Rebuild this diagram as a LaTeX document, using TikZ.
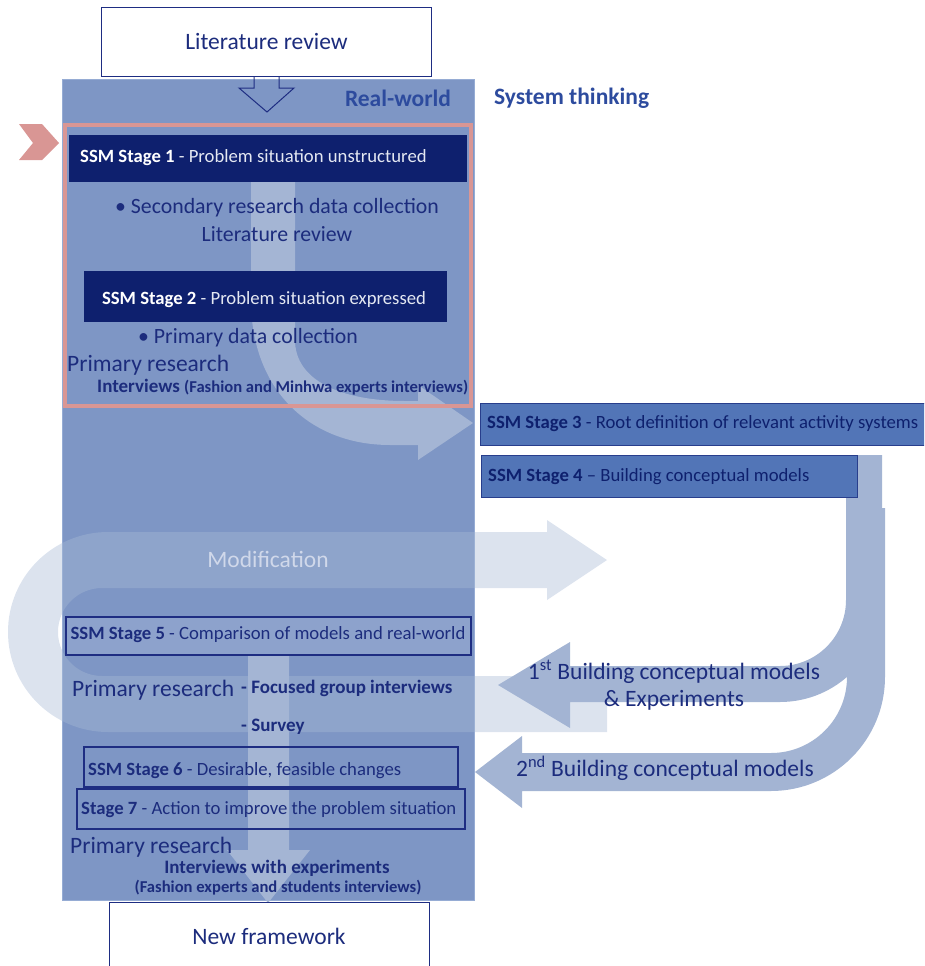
\documentclass[tikz,border=0pt]{standalone}
\usepackage{fontspec}
\setmainfont{Carlito}
\definecolor{bgblue}{RGB}{126,150,197}
\definecolor{bgedge}{RGB}{150,172,212}
\definecolor{navybox}{RGB}{14,32,110}
\definecolor{midbox}{RGB}{82,117,183}
\definecolor{midedge}{RGB}{40,62,140}
\definecolor{navyT}{RGB}{28,44,125}
\definecolor{headT}{RGB}{45,75,158}
\definecolor{pinkc}{RGB}{217,150,148}
\definecolor{lightarrow}{RGB}{164,181,212}
\definecolor{rarrowc}{RGB}{163,180,211}
\definecolor{modc}{RGB}{167,186,213}
\definecolor{modtext}{RGB}{208,216,234}
\definecolor{edgeN}{RGB}{30,45,130}
\definecolor{softwhite}{RGB}{228,232,242}
\newcommand{\fbig}{\fontsize{23.5}{27}\selectfont}
\newcommand{\fmid}{\fontsize{21.8}{25}\selectfont}
\newcommand{\fstage}{\fontsize{18.7}{22}\selectfont}
\newcommand{\fsmall}{\fontsize{19}{22}\selectfont}
\newcommand{\ftiny}{\fontsize{16.6}{19}\selectfont}
\tikzset{
  txt/.style={inner sep=0pt, text=navyT},
  whitebox/.style={draw=edgeN, line width=0.9pt, fill=white, inner sep=0pt, text=navyT},
  darkbox/.style={fill=navybox, inner sep=0pt},
  midboxst/.style={fill=midbox, draw=midedge, line width=1pt, inner sep=0pt},
  outbox/.style={draw=edgeN, line width=1.2pt, inner sep=0pt},
  rarrow/.style={fill=rarrowc},
}
\begin{document}
\begin{tikzpicture}[x=1pt,y=-1pt]
\useasboundingbox (0,0) rectangle (924,966);
\clip (0,0) rectangle (924,966);
% background real-world panel
\fill[bgblue] (62,79) rectangle (474,900);
\draw[bgedge, line width=0.8pt] (62,79) rectangle (474,900);
% modification C-shaped arrow
\fill[modc, fill opacity=0.4] (607,732) -- (108,732) arc[start angle=90,end angle=270,radius=100]
  -- (547,532) -- (547,520) -- (607,560) -- (547,600) -- (547,588) -- (102,588)
  arc[start angle=270,end angle=90,radius=44] -- (607,676) -- cycle;
% light arrow stage 1/2 -> stage 3
\fill[lightarrow] (251,182) -- (251,300) .. controls (251,390) and (310,445) .. (390,445)
  -- (418,445) -- (418,460) -- (473,423) -- (418,385) -- (418,401) -- (405,401)
  .. controls (340,401) and (295,380) .. (295,340) -- (295,182) -- cycle;
% light arrow stage 5 -> new framework
\fill[lightarrow] (248,655) -- (248,850) -- (227,850) -- (268,903) -- (310,850) -- (289,850) -- (289,655) -- cycle;
% right curved arrows
\fill[rarrow] (847,508) -- (847,677) arc[start angle=0,end angle=90,radius=76] -- (522,753) -- (522,736)
  -- (475,772) -- (522,808) -- (522,791) -- (771,791) arc[start angle=90,end angle=0,radius=114] -- (885,508) -- cycle;
\fill[rarrow] (846,455) -- (846,600) arc[start angle=0,end angle=90,radius=66] -- (570,666) -- (570,642)
  -- (498,685) -- (570,728) -- (570,702) -- (780,702) arc[start angle=90,end angle=0,radius=102] -- (882,455) -- cycle;
% top literature review box and hollow arrow
\node[whitebox, minimum width=330pt, minimum height=69pt] (lit) at (266.5,41.5) {\fbig Literature review};
\draw[edgeN, line width=1pt] (254,77) -- (254,88) -- (239,88) -- (267,112) -- (294,88) -- (279,88) -- (279,77);
\node[txt, text=headT] (rw) at (398,98) {\fbig\bfseries Real-world};
\node[txt, text=headT, anchor=west] (st) at (494,98) {\fbig\bfseries System thinking};
% pink chevron
\fill[pinkc] (19,124) -- (42,124) -- (59,143) -- (42,160) -- (19,160) -- (33,143) -- cycle;
% stage 1
\node[darkbox, minimum width=398pt, minimum height=47pt] (s1) at (268,158.5) {};
\node[txt, anchor=west, text=softwhite] (s1t) at (80,158) {\fstage\textcolor{white}{\bfseries SSM Stage 1} - Problem situation unstructured};
\node[txt] (sec) at (277,208) {\fmid • Secondary research data collection};
\node[txt] (litr) at (277,234) {\fmid Literature review};
% stage 2
\node[darkbox, minimum width=363pt, minimum height=51pt] (s2) at (265.5,296.5) {};
\node[txt, text=softwhite] (s2t) at (264,300) {\fstage\textcolor{white}{\bfseries SSM Stage 2} - Problem situation expressed};
\node[txt] (pdc) at (248,338) {\fmid • Primary data collection};
\node[txt, anchor=west] (pr1) at (67,365) {\fbig Primary research};
\node[txt, anchor=west] (int1) at (97,387) {\bfseries\fsmall Interviews \ftiny(Fashion and Minhwa experts interviews)};
\draw[pinkc, line width=4pt] (64.5,124.5) rectangle (471,406);
% stage 3 and 4
\node[midboxst, minimum width=446pt, minimum height=42pt] (s3) at (703,424) {};
\node[txt, anchor=west, text=navybox] (s3t) at (487,424) {\fstage\textbf{SSM Stage 3} - Root definition of relevant activity systems};
\node[midboxst, minimum width=376pt, minimum height=42pt] (s4) at (669,476) {};
\node[txt, anchor=west, text=navybox] (s4t) at (488,477) {\fstage\textbf{SSM Stage 4} – Building conceptual models};
% modification text
\node[txt, text=modtext] (mod) at (268,559) {\fbig Modification};
% stage 5
\node[outbox, fill=white, fill opacity=0.12, minimum width=405pt, minimum height=38pt] (s5) at (268.5,636) {};
\node[txt] (s5t) at (268,635) {\fstage\textbf{SSM Stage 5} - Comparison of models and real-world};
\node[txt, anchor=west] (pr2) at (72,690) {\fbig Primary research};
\node[txt, anchor=west] (fgi) at (241,688) {\fsmall\bfseries - Focused group interviews};
\node[txt, anchor=west] (sur) at (241,727) {\fsmall\bfseries - Survey};
% stage 6 and 7
\node[outbox, minimum width=374pt, minimum height=40pt] (s6) at (271,767) {};
\node[txt, anchor=west] (s6t) at (88,771) {\fstage\textbf{SSM Stage 6} - Desirable, feasible changes};
\node[outbox, minimum width=388pt, minimum height=40pt] (s7) at (271,809) {};
\node[txt, anchor=west] (s7t) at (81,810) {\fstage\textbf{Stage 7} - Action to improve the problem situation};
\node[txt, anchor=west] (pr3) at (70,847) {\fbig Primary research};
\node[txt] (iwe) at (277,868) {\fsmall\bfseries Interviews with experiments};
\node[txt] (fes) at (278,888) {\ftiny\bfseries (Fashion experts and students interviews)};
% new framework
\node[whitebox, minimum width=320pt, minimum height=70pt] (nf) at (269,937) {};
\node[txt] (nft) at (269,936) {\fbig New framework};
% right arrow labels
\node[txt, text=navyT] (b1) at (674,672) {\fbig 1\textsuperscript{st} Building conceptual models};
\node[txt, text=navyT] (b1b) at (674,700) {\fbig \& Experiments};
\node[txt, text=navyT] (b2) at (665,768) {\fbig 2\textsuperscript{nd} Building conceptual models};
\end{tikzpicture}
\end{document}
